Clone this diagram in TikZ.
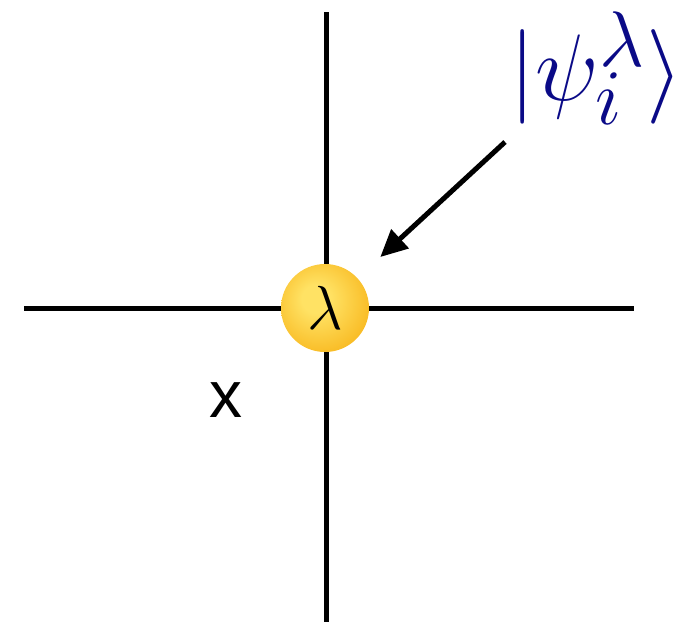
\documentclass[tikz,border=0pt]{standalone}
\usepackage{graphicx}
\usepackage{fontspec}
\newfontfamily\labelfont{Liberation Sans}
\usetikzlibrary{arrows.meta}
\definecolor{ketblue}{RGB}{10,10,135}
\definecolor{balllight}{RGB}{255,226,100}
\definecolor{balldark}{RGB}{245,165,0}
\pgfdeclareradialshading{glowball}{\pgfpoint{-6bp}{6bp}}{color(0bp)=(balllight); color(8bp)=(balllight); color(42bp)=(balldark); color(60bp)=(balldark)}
\tikzset{
    axis/.style={line width=5pt},
    pointer/.style={line width=5pt, -{Triangle[length=27pt,width=25pt]}, shorten >=31pt},
    vertex/.style={circle, minimum size=88pt, inner sep=0pt, shading=glowball, font=\Huge}
}
\begin{document}
\begin{tikzpicture}[x=1pt,y=-1pt]
    \useasboundingbox (0,0) rectangle (684,625);

    \coordinate (top) at (326,12);
    \coordinate (bottom) at (326,622);
    \coordinate (left) at (24,308);
    \coordinate (right) at (634,308);
    \coordinate (tail) at (505,142);

    \draw[axis] (top) -- (bottom);
    \draw[axis] (left) -- (right);

    \node[vertex] (lam) at (325,308) {\scalebox{2.5}{$\lambda$}};
    \node[text=ketblue, font=\Huge] (ket) at (596,68) {\scalebox{3.8}{$|\psi_i^{\lambda}\rangle$}};
    \node[font=\labelfont\fontsize{66}{70}\selectfont] (xlab) at (226,400) {x};

    \draw[pointer] (tail) -- (lam);
\end{tikzpicture}
\end{document}
